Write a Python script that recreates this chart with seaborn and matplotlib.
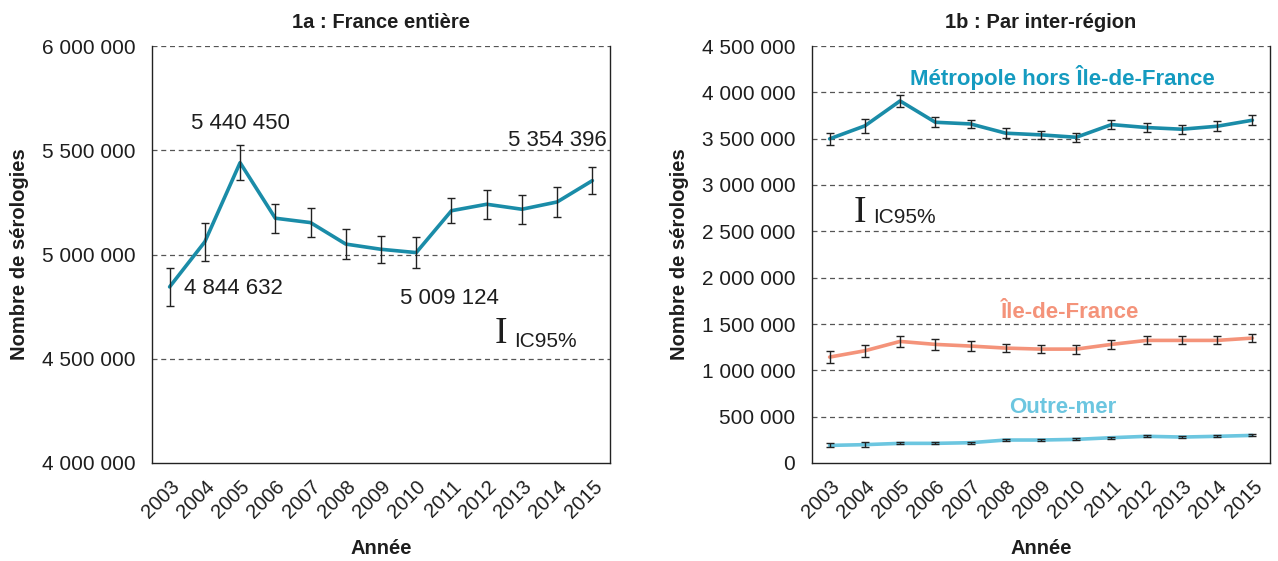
import numpy as np
import pandas as pd
import matplotlib
matplotlib.use("Agg")
import matplotlib.pyplot as plt
import seaborn as sns

# --- data ---
annees = [str(a) for a in range(2003, 2016)]

france = [4844632, 5061000, 5440450, 5174000, 5153000, 5050000, 5025000,
          5009124, 5210000, 5241000, 5217000, 5252000, 5354396]
france_ic = [90000, 91000, 85000, 70000, 69000, 70000, 64000,
             75000, 61000, 70000, 70000, 70000, 66000]

metropole = [3498000, 3638000, 3907000, 3677000, 3659000, 3559000, 3541000,
             3515000, 3652000, 3620000, 3602000, 3634000, 3699000]
metropole_ic = [68000, 74000, 60000, 52000, 47000, 57000, 47000,
                50000, 45000, 47000, 49000, 52000, 52000]

idf = [1143000, 1211000, 1312000, 1280000, 1262000, 1240000, 1229000,
       1229000, 1280000, 1323000, 1323000, 1323000, 1348000]
idf_ic = [65000, 63000, 59000, 61000, 54000, 45000, 43000,
          49000, 47000, 43000, 43000, 43000, 40000]

outremer = [190000, 198000, 212000, 212000, 219000, 248000, 248000,
            255000, 273000, 288000, 280000, 288000, 298000]
outremer_ic = [22000, 25000, 11000, 11000, 11000, 11000, 11000,
               11000, 11000, 11000, 11000, 11000, 11000]

TEAL = "#1a8ca8"
TEAL_TXT = "#159bc0"
SALMON = "#f4937a"
LIGHT = "#6cc6e0"
INK = "#1e1e1e"

sns.set_style("white")
plt.rcParams["font.family"] = ["Liberation Sans", "DejaVu Sans"]
plt.rcParams["text.color"] = INK
plt.rcParams["axes.labelcolor"] = INK
plt.rcParams["xtick.color"] = INK
plt.rcParams["ytick.color"] = INK


def fmt(v, pos=None):
    return f"{int(v):,}".replace(",", " ")


def style_axis(ax, lo, hi, step, title):
    n = len(annees)
    ax.set_xlim(-0.5, n - 0.5)
    ax.set_ylim(lo, hi)
    ax.set_xticks(np.arange(-0.5, n, 1.0))
    ax.set_xticklabels([])
    ax.set_xticks(np.arange(n), minor=True)
    ax.set_xticklabels(annees, minor=True, rotation=45, ha="right",
                       rotation_mode="anchor", fontsize=14.5)
    ax.tick_params(axis="x", which="major", direction="out", length=5,
                   width=1, color="#333333")
    ax.tick_params(axis="x", which="minor", length=0, pad=10)
    ticks = np.arange(lo, hi + 1, step)
    ax.set_yticks(ticks)
    ax.yaxis.set_major_formatter(matplotlib.ticker.FuncFormatter(fmt))
    ax.tick_params(axis="y", direction="out", length=6, width=1,
                   color="#333333", labelsize=15, pad=6)
    for t in ticks[1:]:
        ax.axhline(t, color="#555555", lw=0.9, ls=(0, (4, 3)), zorder=0)
    for s in ["left", "bottom", "right"]:
        ax.spines[s].set_visible(True)
        ax.spines[s].set_color("#222222")
        ax.spines[s].set_linewidth(1)
    ax.spines["top"].set_visible(False)
    ax.set_title(title, fontsize=14.5, fontweight="bold", pad=13)
    ax.set_xlabel("Année", fontsize=14.5, fontweight="bold", labelpad=12)
    ax.set_ylabel("Nombre de sérologies", fontsize=14.5, fontweight="bold",
                  labelpad=9)


def series(ax, vals, err, color):
    df = pd.DataFrame({"annee": annees, "n": vals})
    x = np.arange(len(annees))
    sns.lineplot(x=x, y=df["n"], ax=ax, color=color, lw=2.6, zorder=3)
    ax.errorbar(x, vals, yerr=err, fmt="none", ecolor="#222222",
                elinewidth=1, capsize=3, capthick=1, zorder=4)


fig = plt.figure(figsize=(12.78, 5.61), dpi=100)
ax1 = fig.add_axes([152 / 1278, 1 - 463 / 561, 458 / 1278, 417 / 561])
ax2 = fig.add_axes([812 / 1278, 1 - 463 / 561, 458 / 1278, 417 / 561])

# --- 1a ---
series(ax1, france, france_ic, TEAL)
style_axis(ax1, 4000000, 6000000, 500000, "1a : France entière")
ax1.text(2, 5626000, fmt(france[2]), ha="center", va="center", fontsize=16)
ax1.text(0.4, france[0] - 10000, fmt(france[0]), ha="left", va="center",
         fontsize=16)
ax1.text(7.93, 4791000, fmt(france[7]), ha="center", va="center", fontsize=16)
ax1.text(11.02, 5549000, fmt(france[12]), ha="center", va="center",
         fontsize=16)
ax1.text(9.4, 4618000, "I", ha="center", va="center", fontsize=27,
         family="Liberation Serif", color=INK)
ax1.text(9.78, 4585000, "IC95%", ha="left", va="center", fontsize=15)

# --- 1b ---
series(ax2, metropole, metropole_ic, TEAL)
series(ax2, idf, idf_ic, SALMON)
series(ax2, outremer, outremer_ic, LIGHT)
style_axis(ax2, 0, 4500000, 500000, "1b : Par inter-région")
ax2.text(6.62, 4155000, "Métropole hors Île-de-France", ha="center",
         va="center", fontsize=16, fontweight="bold", color=TEAL_TXT)
ax2.text(6.82, 1619000, "Île-de-France", ha="center", va="center",
         fontsize=16, fontweight="bold", color=SALMON)
ax2.text(6.62, 604000, "Outre-mer", ha="center", va="center",
         fontsize=16, fontweight="bold", color=LIGHT)
ax2.text(0.86, 2700000, "I", ha="center", va="center", fontsize=27,
         family="Liberation Serif", color=INK)
ax2.text(1.23, 2644000, "IC95%", ha="left", va="center", fontsize=15)

fig.savefig("out.png", dpi=100)
